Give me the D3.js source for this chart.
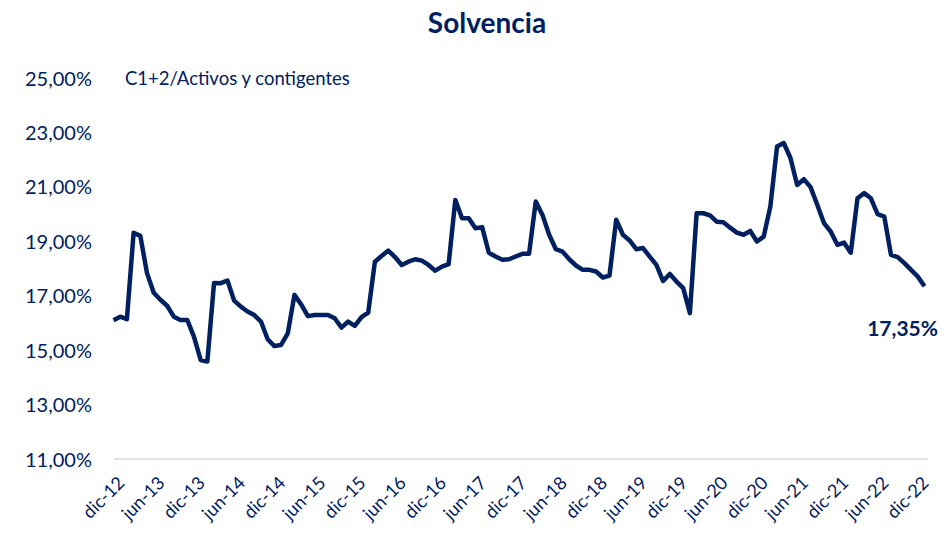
<!DOCTYPE html>
<meta charset="utf-8">
<head>
<style>
  body { margin: 0; background: #fff; }
  text { font-family: Lato, "Open Sans", sans-serif; fill: #002060; }
</style>
</head>
<body>
<div id="chart"></div>
<script src="https://d3js.org/d3.v7.min.js"></script>
<script>

// monthly solvency ratio (C1+2 / activos y contingentes), nov-12 .. dic-22
var ratio = [
  16.10, 16.23, 16.14, 19.31, 19.20, 17.83, 17.11, 16.85, 16.63, 16.23, 16.11, 16.11,
  15.50, 14.64, 14.58, 17.47, 17.46, 17.56, 16.82, 16.60, 16.42, 16.29, 16.05, 15.40,
  15.15, 15.19, 15.62, 17.03, 16.68, 16.25, 16.29, 16.29, 16.29, 16.17, 15.83, 16.05,
  15.89, 16.21, 16.38, 18.25, 18.46, 18.66, 18.42, 18.13, 18.25, 18.34, 18.29, 18.13,
  17.92, 18.07, 18.16, 20.52, 19.85, 19.85, 19.48, 19.52, 18.58, 18.44, 18.32, 18.34,
  18.44, 18.54, 18.54, 20.46, 19.97, 19.24, 18.71, 18.62, 18.34, 18.11, 17.95, 17.95,
  17.89, 17.67, 17.74, 19.79, 19.24, 19.03, 18.71, 18.75, 18.44, 18.13, 17.54, 17.80,
  17.52, 17.28, 16.36, 20.03, 20.03, 19.95, 19.72, 19.70, 19.50, 19.32, 19.24, 19.38,
  18.99, 19.17, 20.28, 22.48, 22.61, 22.06, 21.07, 21.28, 20.99, 20.34, 19.67, 19.36,
  18.87, 18.95, 18.58, 20.58, 20.77, 20.58, 20.00, 19.91, 18.50, 18.42, 18.20, 17.95,
  17.70, 17.35
];
var tickLabels = ["dic-12","jun-13","dic-13","jun-14","dic-14","jun-15","dic-15","jun-16",
  "dic-16","jun-17","dic-17","jun-18","dic-18","jun-19","dic-19","jun-20","dic-20",
  "jun-21","dic-21","jun-22","dic-22"];
var yTicks = [11, 13, 15, 17, 19, 21, 23, 25];
var lastLabel = "17,35%";

var width = 949, height = 534;

var svg = d3.select("#chart").append("svg")
  .attr("width", width)
  .attr("height", height);

var x = d3.scaleLinear()
  .domain([0, ratio.length - 1])
  .range([113.5, 924.5]);

var y = d3.scaleLinear()
  .domain([11, 25])
  .range([459, 78]);

var fmt = function(d) { return d3.format(".2f")(d).replace(".", ",") + "%"; };

// title
svg.append("text")
  .attr("x", 487).attr("y", 33)
  .attr("text-anchor", "middle")
  .style("font-size", "28px")
  .style("font-weight", "bold")
  .text("Solvencia");

svg.append("text")
  .attr("x", 125).attr("y", 85)
  .style("font-size", "18.5px")
  .text("C1+2/Activos y contigentes");

// y axis labels, no line
var yAxis = svg.append("g")
  .attr("transform", "translate(92,0)")
  .call(d3.axisLeft(y).tickValues(yTicks).tickFormat(fmt).tickSize(0).tickPadding(0));
yAxis.select(".domain").remove();
yAxis.selectAll("text")
  .style("font-size", "20px")
  .attr("dy", "0.35em")
  .style("fill", "#002060");

// baseline
svg.append("line")
  .attr("x1", 114).attr("x2", 928)
  .attr("y1", y(11)).attr("y2", y(11))
  .style("stroke", "#d9d9d9")
  .style("stroke-width", 1.5);

// x axis: first point is nov-12, so ticks land on dic / jun
var tickIdx = d3.range(1, ratio.length, 6);
var xAxis = svg.append("g")
  .attr("transform", "translate(0," + y(11) + ")")
  .call(d3.axisBottom(x)
    .tickValues(tickIdx)
    .tickFormat(function(d, i) { return tickLabels[i]; })
    .tickSize(0));
xAxis.select(".domain").remove();
xAxis.selectAll("text")
  .style("font-size", "18px")
  .style("fill", "#002060")
  .attr("text-anchor", "end")
  .attr("dy", null)
  .attr("y", 0)
  .attr("transform", "translate(5,25) rotate(-45)");

// the line
var line = d3.line()
  .x(function(d, i) { return x(i); })
  .y(function(d) { return y(d); });

svg.append("path")
  .datum(ratio)
  .attr("d", line)
  .style("fill", "none")
  .style("stroke", "#002060")
  .style("stroke-width", 4.5)
  .style("stroke-linejoin", "round");

svg.append("text")
  .attr("x", 938).attr("y", 336)
  .attr("text-anchor", "end")
  .style("font-size", "21px")
  .style("font-weight", "bold")
  .text(lastLabel);

</script>
</body>
